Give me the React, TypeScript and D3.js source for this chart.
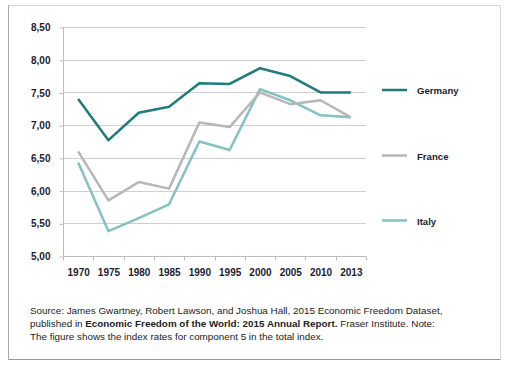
import { useEffect, useRef } from 'react'
import * as d3 from 'd3'

const years = ['1970', '1975', '1980', '1985', '1990', '1995', '2000', '2005', '2010', '2013']
const germany = [7.4, 6.77, 7.19, 7.28, 7.64, 7.63, 7.87, 7.75, 7.5, 7.5]
const france = [6.6, 5.85, 6.13, 6.03, 7.04, 6.97, 7.5, 7.32, 7.38, 7.12]
const italy = [6.43, 5.38, 5.58, 5.79, 6.75, 6.62, 7.55, 7.38, 7.15, 7.12]
const yTicks = [5, 5.5, 6, 6.5, 7, 7.5, 8, 8.5]

const series = [
  { name: 'Germany', values: germany, color: '#1f7b7c' },
  { name: 'France', values: france, color: '#b7b7b7' },
  { name: 'Italy', values: italy, color: '#84c2c2' },
]

const FONT = '"Liberation Sans", Arial, Helvetica, sans-serif'

export default function App() {
  const svgRef = useRef<SVGSVGElement>(null)

  useEffect(() => {
    if (!svgRef.current) return
    const svg = d3.select(svgRef.current)
    svg.selectAll('*').remove()

    // frame
    svg.append('rect')
      .attr('x', 8.5).attr('y', 5.5)
      .attr('width', 492).attr('height', 354)
      .attr('fill', '#fff')
      .attr('stroke', '#d6d6d6')
    svg.append('line')
      .attr('x1', 8.5).attr('x2', 500.5)
      .attr('y1', 359.5).attr('y2', 359.5)
      .attr('stroke', '#9a9a9a')
    svg.append('line')
      .attr('x1', 8.5).attr('x2', 8.5)
      .attr('y1', 5.5).attr('y2', 359.5)
      .attr('stroke', '#a8a8a8')

    const x = d3.scaleBand<string>().domain(years).range([63, 366]).padding(0)
    const y = d3.scaleLinear().domain([5, 8.5]).range([256, 27])
    const cx = (d: string) => x(d)! + x.bandwidth() / 2

    // grid
    svg.append('g')
      .selectAll('line')
      .data(yTicks.slice(1))
      .enter()
      .append('line')
      .attr('x1', 63).attr('x2', 366)
      .attr('y1', d => Math.round(y(d)) + 0.5)
      .attr('y2', d => Math.round(y(d)) + 0.5)
      .attr('stroke', '#cfcfcf')
      .attr('stroke-width', 1)

    // y axis
    const yAxis = svg.append('g')
      .attr('transform', 'translate(63.5,0.5)')
      .call(d3.axisLeft(y).tickValues(yTicks).tickSize(4).tickPadding(9)
        .tickFormat(d => (d as number).toFixed(2).replace('.', ',')))
    yAxis.select('.domain').attr('stroke', '#bdbdbd').attr('d', `M0,${y(8.5)}V${y(5)}`)
    yAxis.selectAll('line').attr('stroke', '#bdbdbd')
    yAxis.selectAll('text')
      .attr('fill', '#1c1c30')
      .style('font-family', FONT)
      .style('font-size', '10px')
      .style('font-weight', 'bold')

    // x axis
    const xAxis = svg.append('g')
      .attr('transform', `translate(0.5,${Math.round(y(5)) + 0.5})`)
      .call(d3.axisBottom(x).tickSize(0).tickPadding(12))
    xAxis.select('.domain').attr('stroke', '#bdbdbd').attr('d', 'M63,0H366')
    xAxis.selectAll('text')
      .attr('fill', '#1c1c30')
      .style('font-family', FONT)
      .style('font-size', '10px')
      .style('font-weight', 'bold')
    xAxis.append('g')
      .selectAll('line')
      .data([...years.map(d => x(d)!), 366])
      .enter()
      .append('line')
      .attr('x1', d => Math.round(d)).attr('x2', d => Math.round(d))
      .attr('y1', 0).attr('y2', 4)
      .attr('stroke', '#bdbdbd')

    // lines
    const line = d3.line<number>()
      .x((_, i) => cx(years[i]))
      .y(d => y(d))

    series.slice().reverse().forEach(s => {
      svg.append('path')
        .datum(s.values)
        .attr('fill', 'none')
        .attr('stroke', s.color)
        .attr('stroke-width', 2.5)
        .attr('stroke-linejoin', 'round')
        .attr('d', line)
    })

    // legend
    const legendY = [90, 155.5, 220.5]
    series.forEach((s, i) => {
      svg.append('line')
        .attr('x1', 382).attr('x2', 407)
        .attr('y1', legendY[i]).attr('y2', legendY[i])
        .attr('stroke', s.color)
        .attr('stroke-width', 2.5)
      svg.append('text')
        .attr('x', 417).attr('y', legendY[i] + 1)
        .attr('dy', '0.35em')
        .attr('fill', '#1c1c30')
        .style('font-family', FONT)
        .style('font-size', '9.6px')
        .style('font-weight', 'bold')
        .text(s.name)
    })

    // source note
    const note = svg.append('text')
      .attr('x', 30)
      .attr('fill', '#222')
      .style('font-family', FONT)
      .style('font-size', '9.85px')
    note.append('tspan').attr('x', 30).attr('y', 313.5)
      .text('Source: James Gwartney, Robert Lawson, and Joshua Hall, 2015 Economic Freedom Dataset,')
    const l2 = note.append('tspan').attr('x', 30).attr('y', 326.5)
    l2.append('tspan').text('published in ')
    l2.append('tspan').style('font-weight', 'bold').text('Economic Freedom of the World: 2015 Annual Report.')
    l2.append('tspan').text(' Fraser Institute. Note:')
    note.append('tspan').attr('x', 30).attr('y', 339.5)
      .text('The figure shows the index rates for component 5 in the total index.')
  }, [])

  return (
    <svg
      ref={svgRef}
      width={512}
      height={365}
      style={{ position: 'absolute', left: 0, top: 0, background: '#fff' }}
    />
  )
}
